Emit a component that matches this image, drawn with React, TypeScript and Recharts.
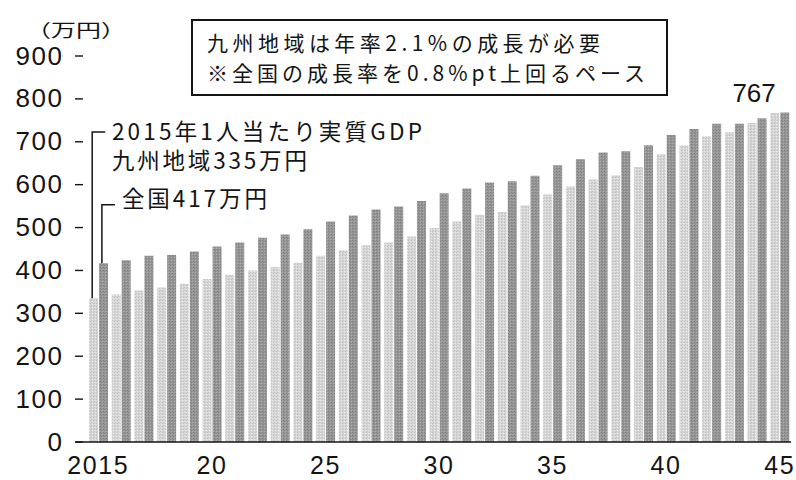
import React from 'react';
import { BarChart, Bar, XAxis, YAxis, LabelList, Customized } from 'recharts';

// Real GDP per capita (10,000 yen), 2015–2045
const years = [
  2015, 2016, 2017, 2018, 2019, 2020, 2021, 2022, 2023, 2024,
  2025, 2026, 2027, 2028, 2029, 2030, 2031, 2032, 2033, 2034,
  2035, 2036, 2037, 2038, 2039, 2040, 2041, 2042, 2043, 2044, 2045,
];
const kyushu = [
  335, 344, 353, 360, 369, 380, 390, 400, 408, 418,
  434, 447, 459, 465, 479, 499, 514, 530, 536, 552,
  577, 596, 612, 622, 641, 671, 692, 713, 722, 744, 767,
];
const national = [
  417, 424, 434, 436, 444, 456, 465, 476, 484, 496,
  514, 528, 542, 549, 562, 580, 591, 605, 608, 621,
  645, 659, 675, 678, 692, 716, 730, 742, 742, 755, 768,
];

const yTicks = [0, 100, 200, 300, 400, 500, 600, 700, 800, 900];
const xLabelYears = [2015, 2020, 2025, 2030, 2035, 2040, 2045];
const xLabelTexts = ['2015', '20', '25', '30', '35', '40', '45'];

const unitText = '（万円）';
const titleLines = ['九州地域は年率2.1%の成長が必要', '※全国の成長率を0.8%pt上回るペース'];
const kyushuNote = ['2015年1人当たり実質GDP', '九州地域335万円'];
const nationalNote = '全国417万円';

const data = years.map((year, i) => ({ year, kyushu: kyushu[i], national: national[i] }));

const W = 796;
const H = 480;
const JP = '"Noto Sans CJK JP", "Noto Sans", sans-serif';
const NUM = '"Liberation Sans", Arial, sans-serif';
const INK = '#141414';

const barBox = (p: any) => {
  const vb = p.viewBox || {};
  return {
    x: Number(p.x ?? vb.x),
    y: Number(p.y ?? vb.y),
    width: Number(p.width ?? vb.width),
    height: Number(p.height ?? vb.height),
  };
};

const YTick = (p: any) => {
  const { x, y, payload } = p;
  return (
    <g>
      <line x1={x} x2={x + 8} y1={y} y2={y} stroke={INK} strokeWidth={1.4} />
      <text x={x - 11.5} y={y + 8.5} textAnchor="end" fontSize={26} fontFamily={NUM} fill={INK} letterSpacing={1.5}>
        {payload.value}
      </text>
    </g>
  );
};

const XTick = (p: any) => {
  const { x, y, payload } = p;
  const i = xLabelYears.indexOf(Number(payload.value));
  if (i < 0) return <g />;
  return (
    <text x={x} y={y + 32} textAnchor="middle" fontSize={25} fontFamily={NUM} fill={INK} letterSpacing={1.6}>
      {xLabelTexts[i]}
    </text>
  );
};

// Leader and caption hanging from the first Kyushu bar
const KyushuNote = (p: any) => {
  if (p.index !== 0) return null;
  const b = barBox(p);
  const value = Number(p.value);
  const k = b.height / value;
  const base = b.y + b.height;
  const lx = b.x + b.width / 2 - 1.3;
  const cy = base - 723 * k;
  return (
    <g>
      <polyline points={`${lx},${b.y} ${lx},${cy} ${lx + 13},${cy}`} fill="none" stroke={INK} strokeWidth={1.5} />
      <text x={lx + 19.7} y={cy + 8} fontSize={22.5} fontFamily={JP} fill={INK} textLength={310} lengthAdjust="spacing">
        {kyushuNote[0]}
      </text>
      <text x={lx + 19.7} y={cy + 37} fontSize={22.5} fontFamily={JP} fill={INK} textLength={195} lengthAdjust="spacing">
        {kyushuNote[1]}
      </text>
    </g>
  );
};

// Leader and caption hanging from the first national bar
const NationalNote = (p: any) => {
  if (p.index !== 0) return null;
  const b = barBox(p);
  const value = Number(p.value);
  const k = b.height / value;
  const base = b.y + b.height;
  const lx = b.x + b.width / 2 - 1.6;
  const cy = base - 553 * k;
  return (
    <g>
      <polyline points={`${lx},${b.y} ${lx},${cy} ${lx + 13},${cy}`} fill="none" stroke={INK} strokeWidth={1.5} />
      <text x={lx + 20} y={cy + 2.5} fontSize={22.5} fontFamily={JP} fill={INK} textLength={145} lengthAdjust="spacing">
        {nationalNote}
      </text>
    </g>
  );
};

// Value of the final year, above the last Kyushu bar
const FinalValue = (p: any) => {
  if (p.index !== years.length - 1) return null;
  const b = barBox(p);
  return (
    <text x={b.x + b.width / 2 + 1} y={b.y - 11} textAnchor="end" fontSize={26} fontFamily={NUM} fill={INK}>
      {p.value}
    </text>
  );
};

const Overlay = () => (
  <g>
    <g transform="translate(26,37) scale(1,0.72)">
      <text x={0} y={0} fontSize={25} fontFamily={JP} fill={INK}>
        {unitText}
      </text>
    </g>
    <rect x={192} y={20} width={475} height={75} fill="#fff" stroke={INK} strokeWidth={2} />
    <text x={207} y={51} fontSize={21} fontFamily={JP} fill={INK} textLength={393} lengthAdjust="spacing">
      {titleLines[0]}
    </text>
    <text x={207} y={81} fontSize={21} fontFamily={JP} fill={INK} textLength={438} lengthAdjust="spacing">
      {titleLines[1]}
    </text>
  </g>
);

export default function App() {
  return (
    <div style={{ position: 'absolute', left: 0, top: 0, width: W, height: H, background: '#fff' }}>
      <BarChart
        width={W}
        height={H}
        data={data}
        margin={{ top: 56, right: 5, bottom: 0, left: 0 }}
        barSize={9}
        barGap={1}
        barCategoryGap={2}
      >
        <defs>
          <pattern id="grainLight" width="3" height="3" patternUnits="userSpaceOnUse">
            <rect width="3" height="3" fill="#d6d6d6" />
            <rect x="0" y="0" width="1" height="1" fill="#bebebe" />
            <rect x="2" y="1" width="1" height="1" fill="#ececec" />
            <rect x="1" y="2" width="1" height="1" fill="#c6c6c6" />
          </pattern>
          <pattern id="grainDark" width="3" height="3" patternUnits="userSpaceOnUse">
            <rect width="3" height="3" fill="#979797" />
            <rect x="1" y="0" width="1" height="1" fill="#7e7e7e" />
            <rect x="0" y="2" width="1" height="1" fill="#adadad" />
            <rect x="2" y="1" width="1" height="1" fill="#868686" />
          </pattern>
        </defs>
        <XAxis
          dataKey="year"
          interval={0}
          height={38}
          tickLine={false}
          tickSize={0}
          tickMargin={0}
          tick={<XTick />}
          axisLine={{ stroke: INK, strokeWidth: 1.6 }}
          padding={{ left: 12, right: 0 }}
        />
        <YAxis
          width={75}
          domain={[0, 900]}
          ticks={yTicks}
          interval={0}
          axisLine={false}
          tickLine={false}
          tickSize={0}
          tickMargin={0}
          tick={<YTick />}
        />
        <Bar dataKey="kyushu" fill="url(#grainLight) #d4d4d4" isAnimationActive={false}>
          <LabelList dataKey="kyushu" content={<KyushuNote />} />
          <LabelList dataKey="kyushu" content={<FinalValue />} />
        </Bar>
        <Bar dataKey="national" fill="url(#grainDark) #949494" isAnimationActive={false}>
          <LabelList dataKey="national" content={<NationalNote />} />
        </Bar>
        <Customized component={<Overlay />} />
      </BarChart>
    </div>
  );
}
